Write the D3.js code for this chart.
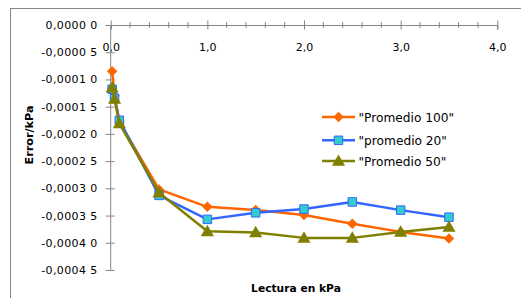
<!DOCTYPE html>
<html>
<head>
<meta charset="utf-8">
<script src="https://cdn.jsdelivr.net/npm/d3@7"></script>
<style>
  body { margin: 0; background: #fff; }
  svg { display: block; font-family: "DejaVu Sans", sans-serif; }
</style>
</head>
<body>
<div id="chart"></div>
<script>
// Lecturas (kPa) y error medio por serie
const lecturas = [0.015, 0.04, 0.09, 0.5, 1.0, 1.5, 2.0, 2.5, 3.0, 3.5];
const promedio100 = [-0.000085, -0.000130, -0.000178, -0.000302, -0.000334, -0.000340, -0.000349, -0.000365, -0.000380, -0.000392];
const promedio20 = [-0.000118, -0.000135, -0.000175, -0.000313, -0.000357, -0.000345, -0.000338, -0.000325, -0.000340, -0.000353];
const promedio50 = [-0.000115, -0.000136, -0.000181, -0.000308, -0.000379, -0.000381, -0.000391, -0.000391, -0.000380, -0.000371];

const xTicks = [0, 1, 2, 3, 4];
const xTickLabels = ["0,0", "1,0", "2,0", "3,0", "4,0"];
const yTicks = [0, -0.00005, -0.0001, -0.00015, -0.0002, -0.00025, -0.0003, -0.00035, -0.0004, -0.00045];
const yTickLabels = ["0,0000 0", "-0,0000 5", "-0,0001 0", "-0,0001 5", "-0,0002 0", "-0,0002 5", "-0,0003 0", "-0,0003 5", "-0,0004 0", "-0,0004 5"];

const width = 521, height = 298;
const axisColor = "#868686";

const series = [
    { name: "\"Promedio 100\"", values: promedio100, stroke: "#ff6600", fill: "#ff6600", marker: "diamond" },
    { name: "\"promedio 20\"", values: promedio20, stroke: "#3366ff", fill: "#33cccc", marker: "square" },
    { name: "\"Promedio 50\"", values: promedio50, stroke: "#808000", fill: "#808000", marker: "triangle" }
];

const svg = d3.select("#chart").append("svg")
    .attr("width", width)
    .attr("height", height);

// marco del gráfico
svg.append("rect")
    .attr("x", 10.5).attr("y", 8.5)
    .attr("width", width).attr("height", height)
    .attr("fill", "none")
    .attr("stroke", axisColor);

const x = d3.scaleLinear().domain([0, 4]).range([110.7, 497.3]);
const y = d3.scaleLinear().domain([-0.00045, 0]).range([270, 25]);

// eje X (arriba, en y = 0)
const xAxis = svg.append("g")
    .attr("transform", `translate(0, ${y(0)})`)
    .call(d3.axisBottom(x).tickValues(xTicks).tickSize(4.5).tickPadding(14)
        .tickFormat((d, i) => xTickLabels[i]));
xAxis.selectAll(".tick line").attr("y1", -4.5);
xAxis.selectAll(".tick text").attr("font-size", "11px");
const xMinor = d3.range(0, 4.01, 0.2).filter(v => Math.abs(v - Math.round(v)) > 0.01);
xAxis.selectAll(".minor")
    .data(xMinor)
    .join("line")
    .attr("class", "minor")
    .attr("x1", d => x(d)).attr("x2", d => x(d))
    .attr("y1", -3).attr("y2", 3)
    .attr("stroke", axisColor);

// eje Y
const yAxis = svg.append("g")
    .attr("transform", `translate(${x(0) - 0.5}, 0)`)
    .call(d3.axisLeft(y).tickValues(yTicks).tickSize(4.5).tickPadding(8)
        .tickFormat((d, i) => yTickLabels[i]));
yAxis.selectAll(".tick line").attr("x1", 4.5);
yAxis.selectAll(".tick text")
    .attr("font-size", "11px")
    .attr("letter-spacing", "0.4px");

svg.selectAll(".domain").attr("stroke", axisColor);
svg.selectAll(".tick line").attr("stroke", axisColor);
svg.selectAll(".tick text")
    .attr("font-family", "DejaVu Sans")
    .attr("fill", "#000");

// marcadores
const symbols = {
    diamond: d3.symbol().type(d3.symbolDiamond2).size(70),
    square: d3.symbol().type(d3.symbolSquare).size(72),
    triangle: d3.symbol().type(d3.symbolTriangle).size(75)
};

const line = d3.line()
    .x(d => x(d[0]))
    .y(d => y(d[1]));

series.forEach(s => {
    const pts = lecturas.map((v, i) => [v, s.values[i]]);
    svg.append("path")
        .datum(pts)
        .attr("d", line)
        .attr("fill", "none")
        .attr("stroke", s.stroke)
        .attr("stroke-width", 2.5)
        .attr("stroke-linejoin", "round");
    svg.append("g").selectAll("path")
        .data(pts)
        .join("path")
        .attr("transform", d => `translate(${x(d[0])}, ${y(d[1]) + (s.marker === "triangle" ? 1 : 0)})`)
        .attr("d", symbols[s.marker])
        .attr("fill", s.fill)
        .attr("stroke", s.marker === "square" ? s.stroke : "none")
        .attr("stroke-width", 1);
});

// leyenda
const legend = svg.append("g").attr("transform", "translate(322, 117)");
series.forEach((s, i) => {
    const g = legend.append("g").attr("transform", `translate(0, ${[0, 23.3, 44][i]})`);
    g.append("line")
        .attr("x1", 0).attr("x2", 33)
        .attr("stroke", s.stroke)
        .attr("stroke-width", 2.5);
    g.append("path")
        .attr("transform", `translate(16.5, ${s.marker === "triangle" ? 1 : 0})`)
        .attr("d", symbols[s.marker])
        .attr("fill", s.fill)
        .attr("stroke", s.marker === "square" ? s.stroke : "none");
    g.append("text")
        .attr("x", 36.5)
        .attr("y", 4.5)
        .attr("font-size", "12.2px")
        .text(s.name);
});

// títulos
svg.append("text")
    .attr("x", 296).attr("y", 292)
    .attr("text-anchor", "middle")
    .attr("font-weight", "bold")
    .attr("font-size", "10.7px")
    .text("Lectura en kPa");

svg.append("text")
    .attr("transform", "translate(33, 135) rotate(-90)")
    .attr("text-anchor", "middle")
    .attr("font-weight", "bold")
    .attr("font-size", "11.2px")
    .text("Error/kPa");
</script>
</body>
</html>
